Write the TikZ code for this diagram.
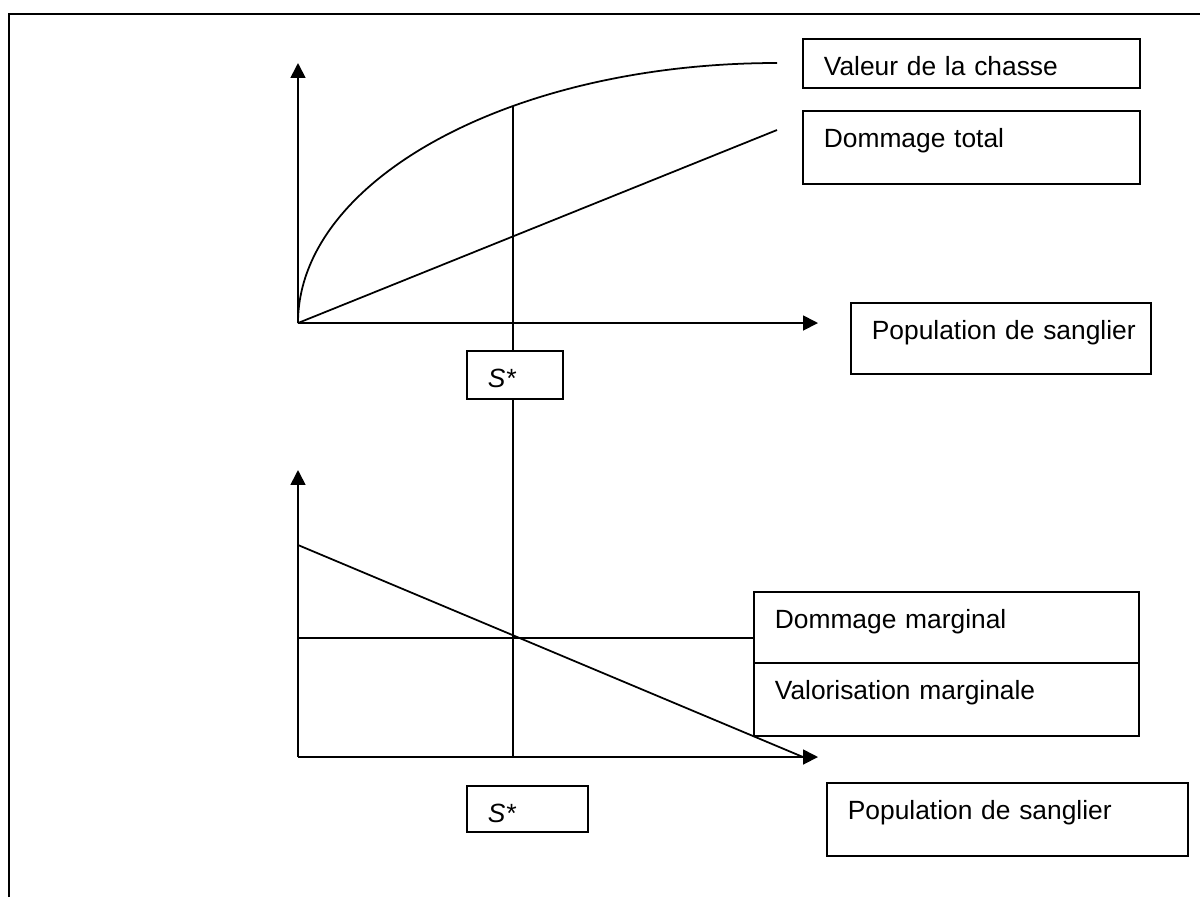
\documentclass[tikz,border=0pt]{standalone}
\usepackage{fontspec}
\setmainfont{Liberation Sans}
\usetikzlibrary{arrows.meta, calc}

\begin{document}
\begin{tikzpicture}[every node/.style={font=\fontsize{15}{18}\selectfont},
    axis/.style={line width=1pt, -{Triangle[length=8.5pt, width=8.5pt]}},
    curve/.style={line width=1pt},
    textbox/.style={draw, line width=1pt, fill=white, anchor=north west, align=left,
      inner xsep=0.42cm, inner ysep=0pt, text height=0.74cm}]
  \useasboundingbox (0,0) rectangle (24,-17.94);
  \draw[line width=1.5pt] (0.18,-17.94) -- (0.18,-0.28) -- (24,-0.28);

  % upper graph
  \coordinate (o1) at (5.96,-6.46);
  \coordinate (y1) at (5.96,-1.26);
  \coordinate (x1) at (16.36,-6.46);
  \coordinate (d1) at (15.54,-2.6);
  \coordinate (st) at (10.26,-2.12);
  \draw[axis] (o1) -- (y1);
  \draw[axis] (o1) -- (x1);
  \draw[curve] (o1) arc[start angle=180, end angle=90, x radius=9.58, y radius=5.2];
  \draw[curve] (o1) -- (d1);

  \node[textbox, text width=5.90cm, text depth=0.24cm] (vc) at (16.04,-0.76) {Valeur de la chasse};
  \node[textbox, text width=5.90cm, text depth=0.72cm] (dt) at (16.04,-2.2) {Dommage total};
  \node[textbox, text width=5.16cm, text depth=0.68cm] (pop1) at (17.0,-6.04) {\mbox{Population de sanglier}};
  \node[textbox, text width=1.08cm, text depth=0.22cm] (s1) at (9.32,-7.0) {\textit{S*}};

  % lower graph
  \coordinate (o2) at (5.96,-15.14);
  \coordinate (y2) at (5.96,-9.4);
  \coordinate (x2) at (16.36,-15.14);
  \coordinate (v0) at (5.96,-10.9);
  \coordinate (v1) at (16.06,-15.14);
  \coordinate (m0) at (5.96,-12.76);
  \coordinate (sb) at (10.26,-15.14);
  \draw[axis] (o2) -- (y2);
  \draw[axis] (o2) -- (x2);

  \node[textbox, text width=6.86cm, text depth=0.68cm] (dm) at (15.06,-11.82) {Dommage marginal};
  \node[textbox, text width=6.86cm, text depth=0.72cm] (vm) at (15.06,-13.24) {Valorisation marginale};
  \node[textbox, text width=1.58cm, text depth=0.18cm] (s2) at (9.32,-15.7) {\textit{S*}};
  \node[textbox, text width=6.38cm, text depth=0.72cm] (pop2) at (16.52,-15.64) {Population de sanglier};

  \draw[curve] (v0) -- (v1);
  \draw[curve] (m0) -- (m0 -| dm.west);
  \draw[curve] (st) -- (st |- s1.north);
  \draw[curve] (st |- s1.south) -- (sb);
\end{tikzpicture}
\end{document}
